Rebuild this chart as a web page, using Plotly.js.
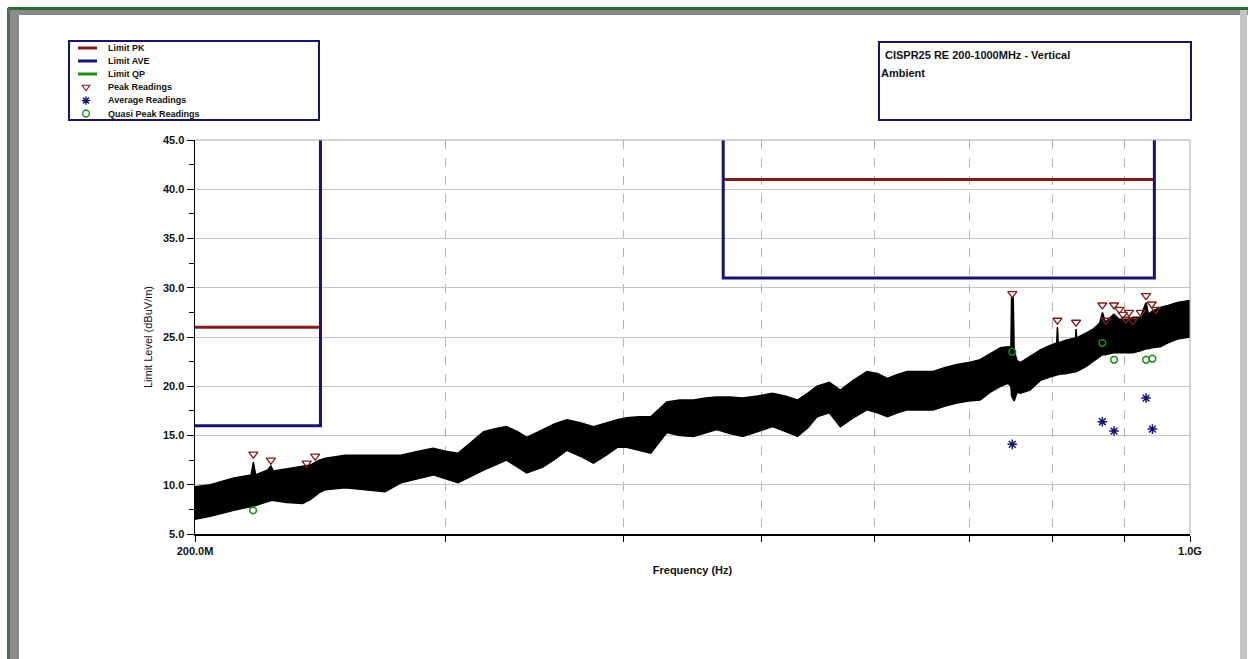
<!DOCTYPE html>
<html>
<head>
<meta charset="utf-8">
<script src="https://cdn.plot.ly/plotly-3.0.1.min.js"></script>
<style>
html,body{margin:0;padding:0;background:#fff;}
#chart{width:1250px;height:659px;}
</style>
</head>
<body>
<div id="chart"></div>
<script>
// ---- Data (frequencies in MHz, levels in dBuV/m) ----
const traceFreqMHz = [200,205,213,219,219.8,220.6,225,226.1,227,232,238,241,244.5,247,255,265,272,279,287,294,300,306,312,319,325,331,337,342,351,358,365,373,381,389,396,402,410,418,429,438,448,457,465,475,485,497,509,520,530,539,547,558,568,580,593,603,613,623,633,646,660,673,686,699,712,724,736,745,748.5,749.3,751.3,752.5,756,760,772,785,796,806,807,808,819,831,831.7,832.5,845,855,864,868,872,884,892,906,912,923,931.4,935,940,953,965,980,1000];
const traceUpper   = [9.8,10.0,10.7,11.0,12.3,11.0,11.5,11.9,11.4,11.6,11.9,12.0,12.5,12.7,13.0,13.0,13.0,13.0,13.4,13.7,13.4,13.2,14.2,15.4,15.7,15.9,15.4,14.8,15.6,16.2,16.6,16.3,15.9,16.3,16.6,16.8,16.9,16.9,18.4,18.6,18.6,18.8,18.9,18.9,18.8,19.0,19.3,19.0,18.6,19.3,20.0,20.4,19.6,20.6,21.5,21.3,20.8,21.2,21.5,21.5,21.5,21.9,22.2,22.4,22.7,23.3,23.9,24.0,24.0,29.0,29.0,23.6,22.6,22.4,23.0,23.7,24.1,24.4,26.0,24.4,24.7,24.9,25.8,24.9,25.4,25.8,26.4,27.5,26.5,27.3,26.8,26.8,27.0,27.0,28.5,27.3,27.6,28.0,28.2,28.5,28.7];
const traceLower   = [6.5,6.8,7.4,7.8,7.8,7.9,8.3,8.4,8.4,8.2,8.1,8.5,9.2,9.5,9.7,9.5,9.3,10.2,10.6,11.0,10.6,10.2,10.8,11.5,12.0,12.5,11.8,11.2,11.8,12.6,13.5,12.9,12.2,13.0,13.8,13.8,13.5,13.2,15.3,15.0,14.9,15.3,15.6,15.2,14.9,15.4,15.9,15.4,14.9,15.8,16.9,17.3,15.9,16.8,17.6,17.3,16.9,17.3,17.6,17.6,17.6,18.0,18.3,18.5,18.6,19.4,20.0,20.3,20.0,19.0,18.6,18.5,19.4,19.3,19.6,20.6,20.9,21.2,21.2,21.2,21.3,21.5,21.5,21.5,22.0,22.5,23.0,23.2,23.2,23.4,23.4,23.4,23.4,23.6,23.8,23.8,23.9,24.0,24.4,24.8,25.0];

const limitPkBand1Freq = [200,245];
const limitPkBand1Val  = [26,26];
const limitPkBand2Freq = [470,944];
const limitPkBand2Val  = [41,41];
const limitAveBand1Freq = [200,245,245];
const limitAveBand1Val  = [16,16,45];
const limitAveBand2Freq = [470,470,944,944];
const limitAveBand2Val  = [45,31,31,45];

const peakFreqMHz = [219.8,226.1,239.6,242.9,750.2,807,831.7,867.8,873,884.4,892,897,901.4,906,911.6,923.5,931.4,940,946.2];
const peakVal     = [13.1,12.5,12.2,12.9,29.4,26.7,26.5,28.25,26.7,28.25,27.8,27.3,26.8,27.5,26.65,27.5,29.2,28.35,27.8];
const avgFreqMHz  = [750.2,867.8,884.4,931.4,941];
const avgVal      = [14.1,16.4,15.45,18.8,15.65];
const qpFreqMHz   = [219.7,750.2,867.8,884.4,931.4,941];
const qpVal       = [7.4,23.5,24.4,22.7,22.7,22.8];

const xTickValsMHz = [200,300,400,500,600,700,800,900,1000];
const xTickText    = ['200.0M','','','','','','','','1.0G'];
const legendLabels = ['Limit PK','Limit AVE','Limit QP','Peak Readings','Average Readings','Quasi Peak Readings'];
const titleLines   = ['CISPR25 RE 200-1000MHz - Vertical','Ambient'];

// ---- Styles ----
const W = 1250, H = 659;
const PK_COLOR = '#801c1c', AVE_COLOR = '#15156e', QP_COLOR = '#1a8c1a';
const FONT = 'Arial, "Liberation Sans", sans-serif';
const hz = a => a.map(v => v * 1e6);
const px = x => x / W, py = y => 1 - y / H;

const traces = [
  {x: hz(traceFreqMHz), y: traceLower, type:'scatter', mode:'lines', line:{color:'#000', width:1.5}, hoverinfo:'skip', showlegend:false},
  {x: hz(traceFreqMHz), y: traceUpper, type:'scatter', mode:'lines', line:{color:'#000', width:1.5}, fill:'tonexty', fillcolor:'#000', hoverinfo:'skip', showlegend:false},
  {x: hz(limitPkBand1Freq), y: limitPkBand1Val, mode:'lines', line:{color:PK_COLOR, width:3}, showlegend:false},
  {x: hz(limitPkBand2Freq), y: limitPkBand2Val, mode:'lines', line:{color:PK_COLOR, width:3}, showlegend:false},
  {x: hz(limitAveBand1Freq), y: limitAveBand1Val, mode:'lines', line:{color:AVE_COLOR, width:3}, showlegend:false},
  {x: hz(limitAveBand2Freq), y: limitAveBand2Val, mode:'lines', line:{color:AVE_COLOR, width:3}, showlegend:false},
  {x: hz(peakFreqMHz), y: peakVal, mode:'markers', marker:{symbol:'triangle-down-open', color:PK_COLOR, size:8, line:{width:1.3}}, showlegend:false},
  {x: hz(avgFreqMHz), y: avgVal, mode:'markers', marker:{symbol:'asterisk-open', color:AVE_COLOR, size:8, line:{width:1.5, color:AVE_COLOR}}, showlegend:false},
  {x: hz(qpFreqMHz), y: qpVal, mode:'markers', marker:{symbol:'octagon-open', color:QP_COLOR, size:7, line:{width:1.5}}, showlegend:false},
  // legend symbols in overlay pixel axes
  {x:[86], y:[87], xaxis:'x2', yaxis:'y2', mode:'markers', marker:{symbol:'triangle-down-open', color:PK_COLOR, size:7, line:{width:1.2}}, showlegend:false, hoverinfo:'skip'},
  {x:[86], y:[100.5], xaxis:'x2', yaxis:'y2', mode:'markers', marker:{symbol:'asterisk-open', color:AVE_COLOR, size:7, line:{width:1.3, color:AVE_COLOR}}, showlegend:false, hoverinfo:'skip'},
  {x:[86], y:[113.5], xaxis:'x2', yaxis:'y2', mode:'markers', marker:{symbol:'octagon-open', color:QP_COLOR, size:7, line:{width:1.3}}, showlegend:false, hoverinfo:'skip'}
];

const legendRows = [48,61,74,87,100.5,113.5];
const annotations = legendLabels.map((t,i) => ({
  text: t, x: px(106), y: py(legendRows[i]), xref:'paper', yref:'paper',
  xanchor:'left', yanchor:'middle', showarrow:false,
  font:{family:FONT, size:9, color:'#111', weight:'bold'}
}));
annotations.push({text:titleLines[0], x:px(883), y:py(55), xref:'paper', yref:'paper', xanchor:'left', yanchor:'middle', showarrow:false, font:{family:FONT, size:11, color:'#111', weight:'bold'}});
annotations.push({text:titleLines[1], x:px(879), y:py(73.5), xref:'paper', yref:'paper', xanchor:'left', yanchor:'middle', showarrow:false, font:{family:FONT, size:11, color:'#111', weight:'bold'}});

const shapes = [
  // page frame
  {type:'rect', xref:'paper', yref:'paper', x0:px(8), x1:px(1248), y0:py(7), y1:py(10), fillcolor:'#2c6a2c', line:{width:0}, layer:'below'},
  {type:'rect', xref:'paper', yref:'paper', x0:px(8), x1:px(1248), y0:py(10), y1:py(15), fillcolor:'#8a8a8a', line:{width:0}, layer:'below'},
  {type:'rect', xref:'paper', yref:'paper', x0:px(7), x1:px(10), y0:py(8), y1:py(659), fillcolor:'#4f6f4f', line:{width:0}, layer:'below'},
  {type:'rect', xref:'paper', yref:'paper', x0:px(10), x1:px(19), y0:py(10), y1:py(659), fillcolor:'#8c8c8c', line:{width:0}, layer:'below'},
  {type:'rect', xref:'paper', yref:'paper', x0:px(1240), x1:px(1247), y0:py(10), y1:py(659), fillcolor:'#c4c4c4', line:{width:0}, layer:'below'},
  // legend box and title box
  {type:'rect', xref:'paper', yref:'paper', x0:px(69), x1:px(319), y0:py(41), y1:py(120), line:{color:AVE_COLOR, width:2}},
  {type:'rect', xref:'paper', yref:'paper', x0:px(879), x1:px(1191), y0:py(42), y1:py(120), line:{color:AVE_COLOR, width:2}},
  {type:'line', xref:'paper', yref:'paper', x0:px(78), x1:px(97), y0:py(48), y1:py(48), line:{color:PK_COLOR, width:3}},
  {type:'line', xref:'paper', yref:'paper', x0:px(78), x1:px(97), y0:py(61), y1:py(61), line:{color:AVE_COLOR, width:3}},
  {type:'line', xref:'paper', yref:'paper', x0:px(78), x1:px(97), y0:py(74), y1:py(74), line:{color:QP_COLOR, width:3}},
  // plot right/top border
  {type:'line', xref:'x domain', yref:'y domain', x0:1, x1:1, y0:0, y1:1, line:{color:'#a8a8a8', width:1}},
  {type:'line', xref:'x domain', yref:'y domain', x0:0, x1:1, y0:1, y1:1, line:{color:'#a8a8a8', width:1}}
];

const layout = {
  width: W, height: H,
  margin:{l:0, r:0, t:0, b:0},
  paper_bgcolor:'#fff', plot_bgcolor:'rgba(0,0,0,0)',
  showlegend:false,
  font:{family:FONT, color:'#111'},
  xaxis:{
    type:'log', domain:[195/W, 1190/W], anchor:'y',
    range:[Math.log10(200e6), Math.log10(1000e6)],
    tickmode:'array', tickvals: hz(xTickValsMHz), ticktext: xTickText,
    ticks:'outside', ticklen:6, tickcolor:'#000', tickwidth:1,
    showgrid:true, gridcolor:'#b4b4b4', griddash:'dash', gridwidth:1,
    showline:true, linecolor:'#000', linewidth:1.5, zeroline:false,
    tickfont:{family:FONT, size:11, color:'#111', weight:'bold'},
    title:{text:'Frequency (Hz)', standoff:10, font:{family:FONT, size:11, color:'#111', weight:'bold'}}
  },
  yaxis:{
    domain:[1-534/H, 1-140/H], anchor:'x',
    range:[5,45], dtick:5, tick0:5, tickformat:'.1f',
    ticks:'outside', ticklen:7, tickcolor:'#000',
    minor:{dtick:2.5, tick0:5, ticks:'outside', ticklen:5, tickcolor:'#000', showgrid:false},
    showgrid:true, gridcolor:'#c4c4c4', gridwidth:1,
    showline:true, linecolor:'#000', linewidth:1.5, zeroline:false,
    tickfont:{family:FONT, size:11, color:'#111', weight:'bold'},
    title:{text:'Limit Level (dBuV/m)', standoff:8, font:{family:FONT, size:11, color:'#111'}}
  },
  xaxis2:{domain:[0,1], range:[0,W], anchor:'y2', visible:false, fixedrange:true},
  yaxis2:{domain:[0,1], range:[H,0], anchor:'x2', visible:false, fixedrange:true},
  shapes: shapes,
  annotations: annotations
};

Plotly.newPlot('chart', traces, layout, {displayModeBar:false, staticPlot:true});
</script>
</body>
</html>
